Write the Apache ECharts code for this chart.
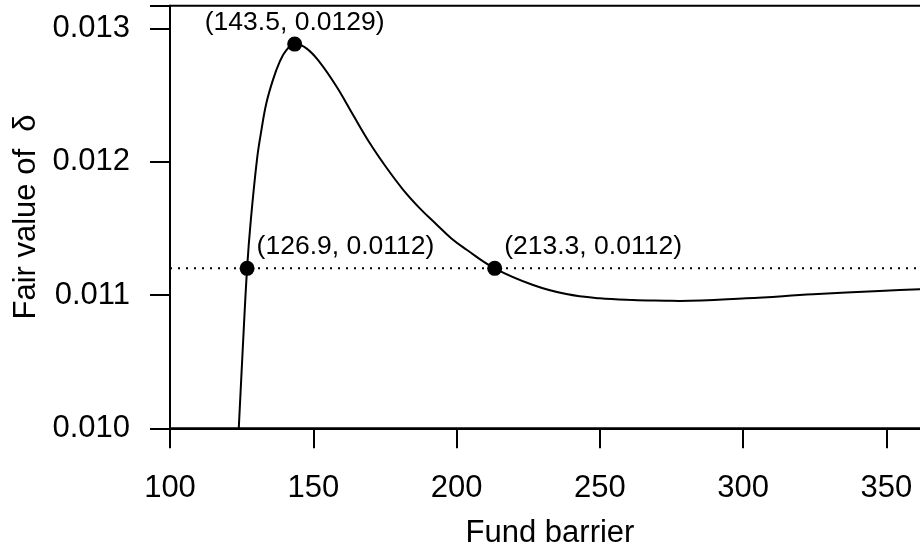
<!DOCTYPE html>
<html>
<head>
<meta charset="utf-8">
<script src="https://cdn.jsdelivr.net/npm/echarts@6/dist/echarts.min.js"></script>
<style>
    html, body { margin: 0; padding: 0; background: #fff; }
    #chart { width: 920px; height: 553px; }
</style>
</head>
<body>
<div id="chart"></div>
<script>
    // fund barrier vs fair value of delta
    const barrier = [124.0, 125.4, 126.9, 128.2, 130.4, 131.9, 133.6, 135.9, 138.3, 140.6,
        143.5, 147.6, 152.2, 158.1, 163.9, 169.7, 175.5, 181.3, 187.1, 193.0,
        198.2, 203.4, 213.3, 226.7, 238.3, 249.9, 261.5, 273.2, 277.8, 301.1,
        324.4, 347.6, 361.6, 365.2]
    const fairValue = [0.010000, 0.010602, 0.011200, 0.011562, 0.012025, 0.012237, 0.012437, 0.012612, 0.012750, 0.012837,
        0.012882, 0.012850, 0.012747, 0.012564, 0.012350, 0.012140, 0.011956, 0.011791, 0.011652, 0.011529,
        0.011424, 0.011341, 0.011200, 0.011075, 0.011007, 0.010975, 0.010962, 0.010957, 0.010955, 0.010975,
        0.011005, 0.011030, 0.011043, 0.011046]

    // marked points and their labels
    const pointX = [126.9, 143.5, 213.3]
    const pointY = [0.0112, 0.012882, 0.0112]
    const pointLabels = ['(126.9, 0.0112)', '(143.5, 0.0129)', '(213.3, 0.0112)']

    // dotted reference level
    const hline = 0.0112

    const xTicks = [100, 150, 200, 250, 300, 350]
    const yTicks = [0.010, 0.011, 0.012, 0.013]

    const font = 'Liberation Sans, Arial, Helvetica, sans-serif'
    const xMin = 100, xMax = 365.2

    const mChart = echarts.init(document.getElementById('chart'))

    const option = {
        animation: false,
        grid: {
            left: 170,
            top: 5.7,
            width: 760,
            height: 422.6,
            outerBoundsMode: 'none',
            containLabel: false,
            show: true,
            borderColor: '#000',
            borderWidth: 2,
            backgroundColor: 'transparent'
        },
        // x 轴
        xAxis: {
            type: 'value',
            min: xMin,
            max: xMax,
            interval: 50,
            name: 'Fund barrier',
            nameLocation: 'middle',
            nameGap: 90,
            nameTextStyle: { color: '#000', fontSize: 31, fontFamily: font },
            axisLine: { show: true, lineStyle: { color: '#000', width: 2 } },
            axisTick: { show: true, inside: false, length: 20, lineStyle: { color: '#000', width: 2 } },
            axisLabel: {
                color: '#000',
                fontSize: 31,
                fontFamily: font,
                margin: 45,
                formatter: v => xTicks.includes(v) ? String(v) : ''
            },
            splitLine: { show: false }
        },
        // y 轴
        yAxis: {
            type: 'value',
            min: 0.010,
            max: 0.01317,
            interval: 0.001,
            name: 'Fair value of  \u03b4',
            nameLocation: 'middle',
            nameGap: 128,
            nameTextStyle: { color: '#000', fontSize: 31, fontFamily: font },
            axisLine: { show: true, lineStyle: { color: '#000', width: 2 } },
            axisTick: { show: true, inside: false, length: 20, lineStyle: { color: '#000', width: 2 } },
            axisLabel: {
                color: '#000',
                fontSize: 31,
                fontFamily: font,
                margin: 40,
                formatter: v => {
                    const hit = yTicks.find(t => Math.abs(t - v) < 1e-9)
                    return hit !== undefined ? hit.toFixed(3) : ''
                }
            },
            splitLine: { show: false }
        },
        series: [
            {
                // dotted horizontal level across the plot
                type: 'line',
                data: [[xMin, hline], [xMax, hline]],
                showSymbol: false,
                silent: true,
                lineStyle: { color: '#000', width: 2, type: [2, 6], cap: 'butt' },
                z: 1
            },
            {
                type: 'line',
                data: barrier.map((x, i) => [x, fairValue[i]]),
                showSymbol: false,
                smooth: 0.4,
                clip: true,
                lineStyle: { color: '#000', width: 2 },
                z: 2
            },
            {
                type: 'scatter',
                symbol: 'circle',
                symbolSize: 15,
                itemStyle: { color: '#000', opacity: 1 },
                data: pointX.map((x, i) => {
                    const peak = i === 1
                    return {
                        value: [x, pointY[i]],
                        label: {
                            show: true,
                            formatter: pointLabels[i],
                            color: '#000',
                            fontSize: 26.5,
                            fontFamily: font,
                            lineHeight: 26,
                            position: peak ? 'top' : [17, -27],
                            distance: 1,
                            align: peak ? 'center' : 'left',
                            verticalAlign: peak ? 'bottom' : 'top'
                        }
                    }
                }),
                z: 3
            }
        ]
    }
    mChart.setOption(option)
    window.addEventListener('resize', function() {
        mChart.resize()
    })
</script>
</body>
</html>
